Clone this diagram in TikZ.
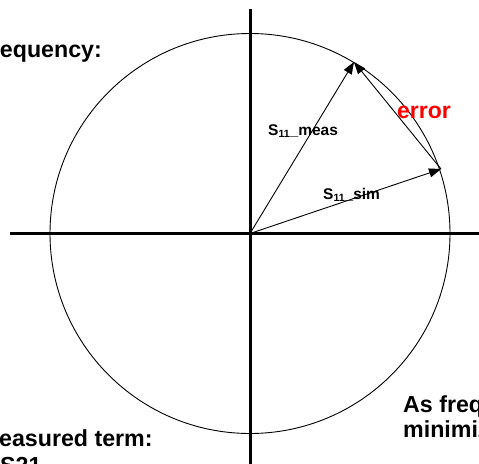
\documentclass[tikz,border=0pt]{standalone}
\usepackage{fontspec}
\setmainfont{Liberation Sans}
\usetikzlibrary{arrows.meta}
\definecolor{errred}{RGB}{255,0,0}
\begin{document}
\begin{tikzpicture}[x=1pt,y=-1pt,
  axis/.style={line width=3pt},
  vec/.style={line width=0.9pt,-{Triangle[length=12pt,width=9pt]}},
  bigtxt/.style={font=\fontsize{23.2}{27}\selectfont\bfseries,inner sep=0pt},
  smalltxt/.style={font=\fontsize{15.5}{18}\selectfont\bfseries,inner sep=0pt},
  errtxt/.style={font=\fontsize{23}{27}\selectfont\bfseries,text=errred,inner sep=0pt}]
\useasboundingbox (0,0) rectangle (479,463);
\clip (0,0) rectangle (479,463);
\fill[white] (0,0) rectangle (479,463);
% axes
\coordinate (O) at (250,233.5);
\coordinate (xl) at (10,233.5);
\coordinate (xr) at (485,233.5);
\coordinate (yt) at (250,9);
\coordinate (yb) at (250,470);
\draw[line width=0.9pt] (O) circle[radius=200];
\draw[axis] (xl) -- (xr);
\draw[axis] (yt) -- (yb);
% vectors
\coordinate (M) at (354,62);
\coordinate (S) at (441,169);
\draw[vec] (O) -- (M);
\draw[vec] (O) -- (S);
\draw[vec] (S) -- (M);
% labels
\node[smalltxt,anchor=base west] (lmeas) at (268,135) {S\raisebox{-0.3ex}{\fontsize{10.5}{11}\selectfont 11}\_meas};
\node[smalltxt,anchor=base west] (lsim) at (323,199) {S\raisebox{-0.3ex}{\fontsize{10.5}{11}\selectfont 11}\_sim};
\node[errtxt,anchor=base west] (lerr) at (397,118) {error};
\node[bigtxt,anchor=base east] (tfreq) at (102,57) {equency:};
\node[bigtxt,anchor=base west] (tmeas) at (-1,446) {easured term:};
\node[bigtxt,anchor=base west] (ts21) at (0,473) {S21};
\node[bigtxt,anchor=base west] (tas) at (403,412) {As freq};
\node[bigtxt,anchor=base west] (tmin) at (403,437) {minimiz};
\end{tikzpicture}
\end{document}
